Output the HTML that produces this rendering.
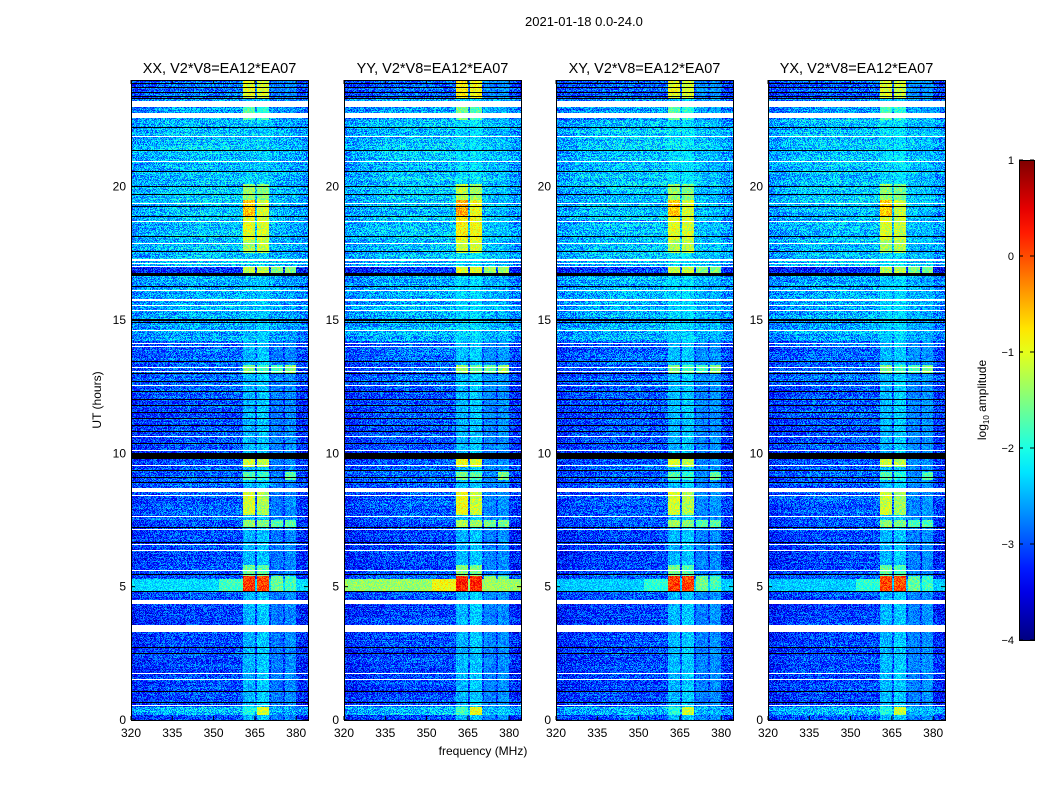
<!DOCTYPE html>
<html><head><meta charset="utf-8">
<style>
html,body{margin:0;padding:0;background:#fff;}
body{width:1050px;height:800px;position:relative;overflow:hidden;font-family:"Liberation Sans",sans-serif;}
canvas{position:absolute;image-rendering:pixelated;}
.t{position:absolute;font-size:13px;color:#000;white-space:nowrap;}
</style></head>
<body>
<div class="t" style="left:525px;top:14px;">2021-01-18 0.0-24.0</div>
<svg id="svg" width="1050" height="800" style="position:absolute;left:0;top:0"></svg>
<script>
// ---- data ----
const panelNames = ["XX, V2*V8=EA12*EA07","YY, V2*V8=EA12*EA07","XY, V2*V8=EA12*EA07","YX, V2*V8=EA12*EA07"];
const panelLeft = [131,344,556,768];
const xTicks = [320,335,350,365,380];
const yTicks = [0,5,10,15,20];
const cbTicks = [1,0,-1,-2,-3,-4];
// background segments [hStart, hEnd, log10 level]
const bgSegments = [[0,0.2,-3.0],[0.2,0.5,-2.4],[0.5,3.3,-3.0],[3.3,4.6,-3.05],[4.6,5.6,-2.9],[5.6,7.5,-3.0],[7.5,9.5,-2.9],[9.5,12.5,-2.95],[12.5,14.2,-2.85],[14.2,16.65,-2.5],[16.65,17.0,-3.1],[17.0,22.5,-2.4],[22.5,23.3,-2.6],[23.3,24,-2.85]];
// white (flagged) lines [hStart,hEnd]
const whiteLines = [[23.0,23.2],[22.57,22.75],[21.84,21.9],[20.9,20.96],[19.35,19.41],[18.66,18.72],[17.85,17.91],[17.22,17.28],[17.1,17.16],[16.97,17.03],[16.07,16.13],[15.72,15.78],[15.53,15.59],[15.34,15.4],[14.55,14.63],[14.1,14.16],[13.97,14.03],[13.17,13.23],[13.02,13.08],[12.52,12.58],[10.59,10.65],[10.09,10.15],[9.53,9.59],[8.55,8.7],[8.38,8.44],[7.59,7.65],[7.13,7.19],[6.53,6.6],[6.34,6.4],[5.57,5.63],[4.35,4.5],[3.3,3.56],[1.73,1.79],[1.5,1.56],[0.53,0.59]];
// black (zero) lines [hStart,hEnd]
const blackLines = [[23.82,23.88],[23.67,23.73],[23.52,23.58],[23.37,23.43],[23.26,23.32],[22.17,22.23],[21.34,21.4],[20.53,20.59],[19.97,20.03],[19.66,19.72],[19.24,19.3],[18.87,18.93],[18.09,18.15],[17.53,17.59],[16.64,16.75],[16.22,16.28],[14.97,15.03],[14.86,14.92],[13.4,13.46],[12.97,13.03],[12.66,12.72],[12.27,12.33],[12.0,12.05],[11.77,11.83],[11.5,11.55],[11.27,11.33],[11.03,11.09],[10.8,10.85],[10.35,10.41],[9.8,10.03],[9.34,9.4],[9.07,9.13],[8.89,8.95],[7.17,7.23],[6.72,6.78],[6.61,6.67],[5.41,5.47],[4.78,4.84],[2.67,2.73],[2.47,2.53],[1.02,1.08],[0.64,0.7]];
// RFI channel bands [fStart,fEnd] (MHz)
const bandFreqs = [[360.8,365],[365.8,370],[371,375.2],[376,380]];
const bandBase = [-2.5,-2.4,-2.8,-2.7];
// RFI events [hStart,hEnd, bandA, bandB, bandC, bandD] (null = base)
const rfiEvents = [[23.3,24,-1.0,-1.1,null,null],[22.5,23.0,-1.7,-1.9,null,null],[19.5,20.1,-1.4,-1.5,null,null],[18.9,19.5,-0.6,-1.1,null,null],[18.0,18.9,-1.0,-1.1,null,null],[17.5,18.0,-1.3,-1.2,null,null],[16.7,17.0,-1.2,-1.2,-1.5,-1.5],[13.0,13.3,-1.5,-1.8,-1.8,-1.5],[9.5,9.8,-1.1,-1.2,null,null],[9.0,9.3,-1.7,-1.9,null,-1.7],[7.7,8.6,-1.1,-1.3,null,null],[7.2,7.5,-1.4,-1.5,-1.7,-1.7],[5.4,5.8,-1.6,-1.7,null,null],[4.8,5.4,0.1,0.05,-1.6,-1.8],[0.2,0.5,-2.0,-1.1,null,null]];
// broadband event near 5 h: [hStart,hEnd] and level per panel
const broadbandHours = [4.85,5.3];
const broadbandLevel = [-2.3,-1.4,-2.4,-2.4];
const panelOffset = [0,0.15,0,-0.05];

// ---- helpers ----
const F0=320, F1=384.3, H1=24, PW=177, PT=80, PH=640;
const xs = (f,i)=>panelLeft[i]+(f-F0)/(F1-F0)*PW;
const ys = h=>PT+PH-(h/H1)*PH;
function jet(v){
  const c=x=>Math.max(0,Math.min(1,x));
  return [c(1.5-Math.abs(4*v-3)),c(1.5-Math.abs(4*v-2)),c(1.5-Math.abs(4*v-1))].map(x=>Math.round(x*255));
}
function hash(a,b){let h=(a*374761393+b*668265263)|0;h=(h^(h>>>13))*1274126177|0;return ((h^(h>>>16))>>>0)/4294967296;}
const dh=H1/PH;
function hitLine(h,arr){ // h = row center
  return arr.some(s=>{
    if(s[1]-s[0]>0.1) return h>=s[0]&&h<s[1];
    const m=(s[0]+s[1])/2; return m>=h-dh/2&&m<h+dh/2;
  });
}

const svg=document.getElementById('svg');
const NS="http://www.w3.org/2000/svg";
function mk(tag,attrs,name){const e=document.createElementNS(NS,tag);for(const k in attrs)e.setAttribute(k,attrs[k]);
  
  
  svg.appendChild(e);return e;}

for(let p=0;p<4;p++){
  const cv=document.createElement('canvas');
  cv.width=PW;cv.height=PH;
  cv.style.left=panelLeft[p]+'px';cv.style.top=PT+'px';
  
  
  document.body.insertBefore(cv,svg);
  const ctx=cv.getContext('2d');const img=ctx.createImageData(PW,PH);
  for(let r=0;r<PH;r++){
    const h=(PH-r-0.5)/PH*H1;
    let bg=-3; for(const s of bgSegments) if(h>=s[0]&&h<s[1]) bg=s[2];
    const white=hitLine(h,whiteLines), black=!white&&hitLine(h,blackLines);
    let ev=null; for(const e of rfiEvents) if(h>=e[0]&&h<e[1]) ev=e;
    const bb = h>=broadbandHours[0]&&h<broadbandHours[1];
    const rowN=(hash(r,p*7+3)-0.5)*0.3;
    for(let c=0;c<PW;c++){
      const f=F0+(c+0.5)/PW*(F1-F0);
      const edge = 1-0.25*Math.pow(Math.abs((c-PW/2)/(PW/2)),3);
      let v=bg+rowN+(hash(c+p*1000,r)-0.5)*1.1 - (1-edge);
      for(let b=0;b<4;b++){
        if(f>=bandFreqs[b][0]&&f<bandFreqs[b][1]){
          let lv=bandBase[b]; if(ev&&ev[2+b]!==null) lv=ev[2+b]+panelOffset[p];
          v=Math.max(v,lv+(hash(c,r+p*99)-0.5)*0.7);
        }
      }
      if(bb){const extra=(f>352&&f<361)?0.5:0; v=Math.max(v,broadbandLevel[p]+extra+(hash(c*3,r)-0.5)*0.6);}
      let col;
      if(white) col=[255,255,255]; else if(black) col=[0,0,0];
      else col=jet(Math.max(0,Math.min(1,(v+4)/5)));
      const k=(r*PW+c)*4; img.data[k]=col[0];img.data[k+1]=col[1];img.data[k+2]=col[2];img.data[k+3]=255;
    }
  }
  ctx.putImageData(img,0,0);
  const L=panelLeft[p];
  mk('rect',{x:L+0.5,y:PT+0.5,width:PW,height:PH,fill:'none',stroke:'#000','stroke-width':1},'panel-frame');
  for(const t of xTicks){const x=xs(t,p);
    mk('line',{x1:x,y1:PT+PH,x2:x,y2:PT+PH-4,stroke:'#000'},'x-tick');
    mk('line',{x1:x,y1:PT,x2:x,y2:PT+4,stroke:'#000'},'x-tick-top');
    const tx=mk('text',{x:x,y:PT+PH+17,'text-anchor':'middle','font-size':12,'font-family':'Liberation Sans, sans-serif'},'x-tick-label');tx.textContent=t;}
  for(const t of yTicks){const y=ys(t);
    mk('line',{x1:L,y1:y,x2:L+4,y2:y,stroke:'#000'},'y-tick');
    mk('line',{x1:L+PW,y1:y,x2:L+PW-4,y2:y,stroke:'#000'},'y-tick-right');
    const tx=mk('text',{x:L-5,y:y+4,'text-anchor':'end','font-size':12,'font-family':'Liberation Sans, sans-serif'},'y-tick-label');tx.textContent=t;}
  const tt=mk('text',{x:L+PW/2,y:73,'text-anchor':'middle','font-size':14.5,'font-family':'Liberation Sans, sans-serif'},'panel-title');tt.textContent=panelNames[p];
}
const xl=mk('text',{x:483,y:755,'text-anchor':'middle','font-size':12,'font-family':'Liberation Sans, sans-serif'},'x-axis-title');xl.textContent='frequency (MHz)';
const yl=mk('text',{x:0,y:0,'text-anchor':'middle','font-size':12,'font-family':'Liberation Sans, sans-serif',transform:'translate(101,400) rotate(-90)'},'y-axis-title');yl.textContent='UT (hours)';

// colorbar
const defs=mk('defs',{},'defs');
const g=document.createElementNS(NS,'linearGradient');g.setAttribute('id','jetg');g.setAttribute('x1','0');g.setAttribute('y1','1');g.setAttribute('x2','0');g.setAttribute('y2','0');
defs.appendChild(g);
for(let i=0;i<=20;i++){const c=jet(i/20);const s=document.createElementNS(NS,'stop');s.setAttribute('offset',i/20);s.setAttribute('stop-color','rgb('+c.join(',')+')');g.appendChild(s);}
const CB={x:1019,y:160,w:15,h:480};
mk('rect',{x:CB.x+0.5,y:CB.y+0.5,width:CB.w,height:CB.h,fill:'url(#jetg)',stroke:'#000'},'colorbar');
for(const t of cbTicks){const y=CB.y+(1-t)/5*CB.h;
  mk('line',{x1:CB.x,y1:y,x2:CB.x+4,y2:y,stroke:'#000'},'colorbar-tick');
  mk('line',{x1:CB.x+CB.w,y1:y,x2:CB.x+CB.w-4,y2:y,stroke:'#000'},'colorbar-tick-right');
  const tx=mk('text',{x:CB.x-5,y:y+4,'text-anchor':'end','font-size':11,'font-family':'Liberation Sans, DejaVu Sans, sans-serif'},'colorbar-tick-label');tx.textContent=(t<0?'\u2212'+(-t):t);}
const cl=mk('text',{x:0,y:0,'text-anchor':'middle','font-size':12,'font-family':'Liberation Sans, sans-serif',transform:'translate(986,400) rotate(-90)'},'colorbar-label');
cl.innerHTML='log<tspan font-size="8" dy="3">10</tspan><tspan dy="-3"> amplitude</tspan>';
</script>
</body></html>
